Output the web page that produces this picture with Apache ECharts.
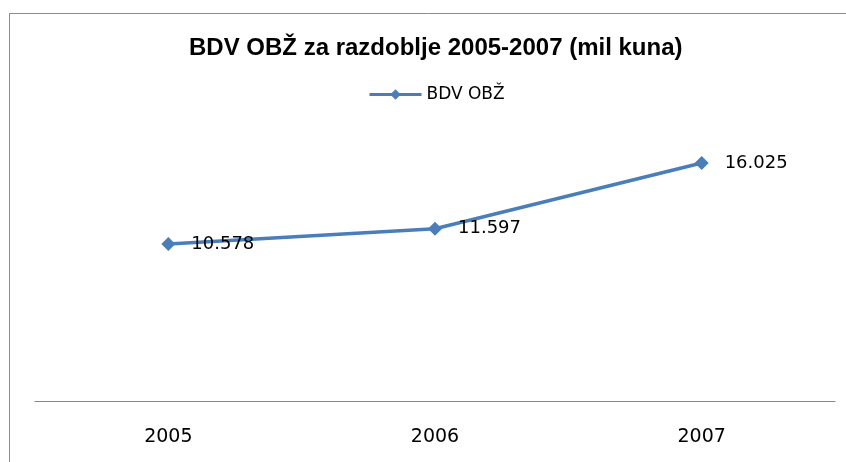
<!DOCTYPE html>
<html>
<head>
<meta charset="utf-8">
<script src="https://cdn.jsdelivr.net/npm/echarts@6/dist/echarts.min.js"></script>
<style>
  html, body { margin: 0; padding: 0; background: #fff; }
  #chart { width: 846px; height: 462px; }
</style>
</head>
<body>
<div id="chart"></div>
<script>
// podaci
var years = ['2005', '2006', '2007'];
var bdvValues = [10.578, 11.597, 16.025];
var bdvLabels = ['10.578', '11.597', '16.025'];

var myChart = echarts.init(document.getElementById('chart'));

var option = {
    backgroundColor: '#fff',
    animation: false,
    graphic: [{
        type: 'rect',
        shape: { x: 9.5, y: 13.5, width: 900, height: 600 },
        style: { fill: 'none', stroke: '#8c8c8c', lineWidth: 1 },
        silent: true
    }],
    title: {
        text: 'BDV OBŽ za razdoblje 2005-2007 (mil kuna)',
        left: 184,
        top: 31,
        textStyle: {
            fontFamily: 'Arial, "Liberation Sans", sans-serif',
            fontWeight: 'bold',
            fontSize: 24,
            color: '#000'
        }
    },
    legend: {
        data: ['BDV OBŽ'],
        top: 81,
        left: 363,
        itemWidth: 52,
        itemHeight: 13,
        itemGap: 3,
        lineStyle: { width: 3 },
        textStyle: {
            fontFamily: 'DejaVu Sans',
            fontSize: 17,
            color: '#000'
        }
    },
    grid: {
        left: 35,
        right: 11,
        top: 104,
        bottom: 61
    },
    xAxis: {
        type: 'category',
        data: years,
        axisLine: { lineStyle: { color: '#868686', width: 1 } },
        axisTick: { show: false },
        axisLabel: {
            margin: 27,
            fontFamily: 'DejaVu Sans',
            fontSize: 19,
            color: '#000'
        }
    },
    yAxis: {
        type: 'value',
        min: 0,
        max: 20,
        show: false,
        splitLine: { show: false }
    },
    series: [{
        name: 'BDV OBŽ',
        type: 'line',
        data: bdvValues,
        symbol: 'diamond',
        symbolSize: 14,
        lineStyle: { color: '#4A7EBB', width: 3.5 },
        itemStyle: { color: '#4A7EBB' },
        label: {
            show: true,
            position: 'right',
            distance: 16,
            fontFamily: 'DejaVu Sans',
            fontSize: 18,
            color: '#000',
            formatter: function (p) { return bdvLabels[p.dataIndex]; }
        }
    }]
};

myChart.setOption(option);
</script>
</body>
</html>
